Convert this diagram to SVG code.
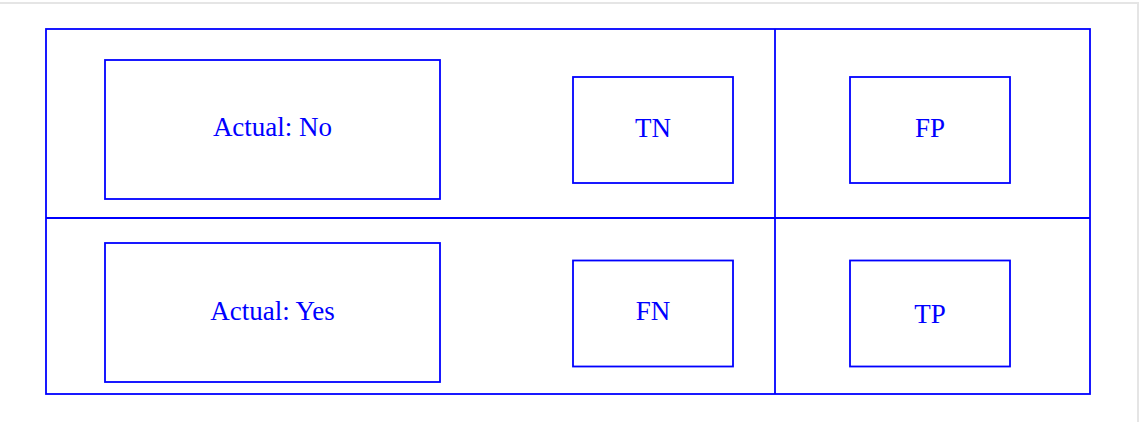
<svg xmlns="http://www.w3.org/2000/svg" width="1140" height="422" viewBox="0 0 1140 422">
  <style>
    .box { fill: none; stroke: #0000ff; stroke-width: 1.8; }
    .lbl { font-family: "Liberation Serif", "Times New Roman", serif; font-size: 27px; fill: #0000ff; text-anchor: middle; }
    .frame { stroke: #e5e5e5; stroke-width: 2; fill: none; }
  </style>
  <rect width="1140" height="422" fill="#ffffff"/>
  <path class="frame" d="M0 3 H1138 V422"/>
  <g id="connectors">
    <rect class="box" x="46" y="29" width="1044" height="365"/>
    <line class="box" x1="775" y1="29" x2="775" y2="394"/>
    <line class="box" x1="46" y1="218" x2="1090" y2="218"/>
  </g>
  <g id="actual-no">
    <rect class="box" x="105" y="60" width="335" height="139"/>
    <text class="lbl" x="272.5" y="136">Actual: No</text>
  </g>
  <g id="tn">
    <rect class="box" x="573" y="77" width="160" height="106"/>
    <text class="lbl" x="653" y="136.5">TN</text>
  </g>
  <g id="fp">
    <rect class="box" x="850" y="77" width="160" height="106"/>
    <text class="lbl" x="930" y="136.5">FP</text>
  </g>
  <g id="actual-yes">
    <rect class="box" x="105" y="243" width="335" height="139"/>
    <text class="lbl" x="272.5" y="319.5">Actual: Yes</text>
  </g>
  <g id="fn">
    <rect class="box" x="573" y="260.5" width="160" height="106"/>
    <text class="lbl" x="653" y="319.5">FN</text>
  </g>
  <g id="tp">
    <rect class="box" x="850" y="260.5" width="160" height="106"/>
    <text class="lbl" x="930" y="323">TP</text>
  </g>
</svg>
